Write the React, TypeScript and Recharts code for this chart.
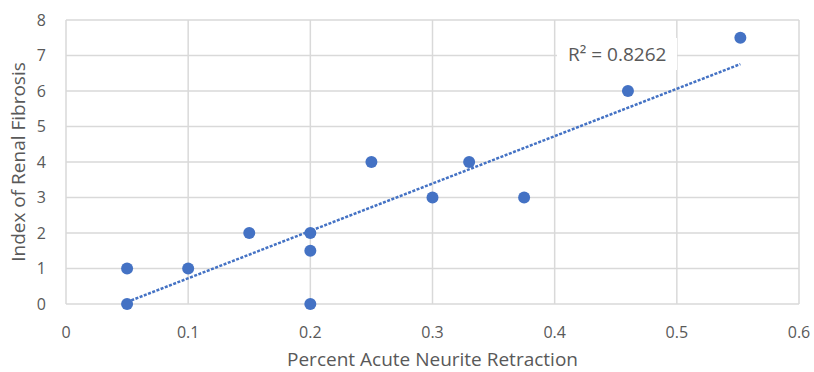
import {
  ScatterChart,
  Scatter,
  XAxis,
  YAxis,
  CartesianGrid,
} from "recharts";

const retraction = [0.05, 0.05, 0.1, 0.15, 0.2, 0.2, 0.2, 0.25, 0.3, 0.33, 0.375, 0.46, 0.552];
const fibrosis = [0, 1, 1, 2, 2, 1.5, 0, 4, 3, 4, 3, 6, 7.5];
const xTicks = [0, 0.1, 0.2, 0.3, 0.4, 0.5, 0.6];
const yTicks = [0, 1, 2, 3, 4, 5, 6, 7, 8];
const r2Label = "R² = 0.8262";

const points = retraction.map((x, i) => ({ x, y: fibrosis[i] }));

// least squares trendline, like Excel's linear trendline
const n = points.length;
const mx = retraction.reduce((a, b) => a + b, 0) / n;
const my = fibrosis.reduce((a, b) => a + b, 0) / n;
let sxy = 0;
let sxx = 0;
points.forEach((p) => {
  sxy += (p.x - mx) * (p.y - my);
  sxx += (p.x - mx) ** 2;
});
const slope = sxy / sxx;
const intercept = my - slope * mx;
const xMin = Math.min(...retraction);
const xMax = Math.max(...retraction);
const trend = [
  { x: xMin, y: intercept + slope * xMin },
  { x: xMax, y: intercept + slope * xMax },
];

const blue = "#4472C4";
const font = "'Open Sans', sans-serif";
const tick = { fontSize: 16, fill: "#595959", fontFamily: font };
const title = { fontSize: 19, fill: "#595959", fontFamily: font };

export default function App() {
  return (
    <div style={{ position: "absolute", left: 0, top: 0, width: 814, height: 372, background: "#fff" }}>
      <ScatterChart width={814} height={372} margin={{ top: 20, right: 15, bottom: 0, left: 0 }}>
        <CartesianGrid stroke="#d9d9d9" strokeWidth={1.5} />
        <XAxis
          type="number"
          dataKey="x"
          domain={[0, 0.6]}
          ticks={xTicks}
          axisLine={false}
          tickLine={false}
          tick={tick}
          tickMargin={17}
          height={68}
          label={{
            value: "Percent Acute Neurite Retraction",
            position: "insideBottom",
            offset: 6,
            style: title,
          }}
        />
        <YAxis
          type="number"
          dataKey="y"
          domain={[0, 8]}
          ticks={yTicks}
          axisLine={false}
          tickLine={false}
          tick={tick}
          tickMargin={14}
          width={66}
          label={{
            value: "Index of Renal Fibrosis",
            angle: -90,
            position: "insideLeft",
            offset: 18,
            style: { ...title, textAnchor: "middle" },
          }}
        />
        <Scatter
          data={trend}
          isAnimationActive={false}
          line={{ stroke: blue, strokeWidth: 2.5, strokeDasharray: "3 1.5" }}
          shape={() => <g />}
        />
        <Scatter
          data={points}
          isAnimationActive={false}
          fill={blue}
          shape={(p: any) => <circle cx={p.cx} cy={p.cy} r={6} fill={blue} />}
        />
      </ScatterChart>
      <div
        style={{
          position: "absolute",
          left: 557,
          top: 38,
          width: 120,
          height: 32,
          background: "#fff",
          fontFamily: font,
          fontSize: 19,
          color: "#595959",
          lineHeight: "32px",
          paddingLeft: 11,
          boxSizing: "border-box",
          whiteSpace: "nowrap",
        }}
      >
        {r2Label}
      </div>
    </div>
  );
}
